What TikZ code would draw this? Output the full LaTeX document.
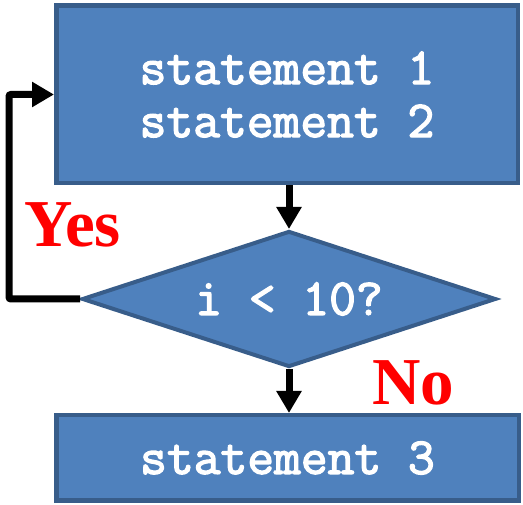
\documentclass[tikz,border=0pt]{standalone}
\usepackage{fontspec}
\setmainfont{Liberation Serif}
\newfontfamily\codefont{Latin Modern Mono}[FakeBold=2.6]
\usetikzlibrary{shapes.geometric,arrows.meta}
\definecolor{boxfill}{HTML}{4F81BD}
\definecolor{boxedge}{HTML}{385D8A}
\definecolor{labelred}{HTML}{FF0000}

\tikzset{
  codetext/.style={text=white, font=\codefont\fontsize{52}{53}\selectfont, align=center},
  blockbox/.style={draw=boxedge, fill=boxfill, line width=4.5pt, inner sep=0pt, codetext},
  decisionbox/.style={diamond, aspect=3, draw=boxedge, fill=boxfill, line width=4pt, inner sep=0pt, codetext},
  flowarrow/.style={draw=black, line width=7pt, -{Triangle[length=22pt,width=24pt]}},
  branchlabel/.style={text=labelred, font=\bfseries\fontsize{67}{67}\selectfont, inner sep=0pt}
}

\begin{document}
\begin{tikzpicture}[x=1pt,y=-1pt]
  \useasboundingbox (0,0) rectangle (523,505);

  % process blocks and decision
  \node[blockbox, minimum width=461.5pt, minimum height=177.5pt] (b1) at (287,94.5)
    {statement 1\\statement 2};
  \node[decisionbox, minimum width=414pt, minimum height=136pt] (dec) at (289,299)
    {i < 10?};
  \node[blockbox, minimum width=462.5pt, minimum height=85.5pt] (b3) at (287.5,458)
    {statement 3};

  % connectors
  \draw[flowarrow] (b1.south -| dec.north) -- (dec.north);
  \draw[flowarrow] (dec.south) -- (dec.south |- b3.north);
  \coordinate (loopcorner) at (9,299);
  \draw[flowarrow, rounded corners=2pt] (dec.west) -- (loopcorner) |- (b1.west);

  % branch labels
  \node[branchlabel, anchor=base west] (yes) at (24,247) {Yes};
  \node[branchlabel, anchor=base west] (no) at (372,405) {No};
\end{tikzpicture}
\end{document}
